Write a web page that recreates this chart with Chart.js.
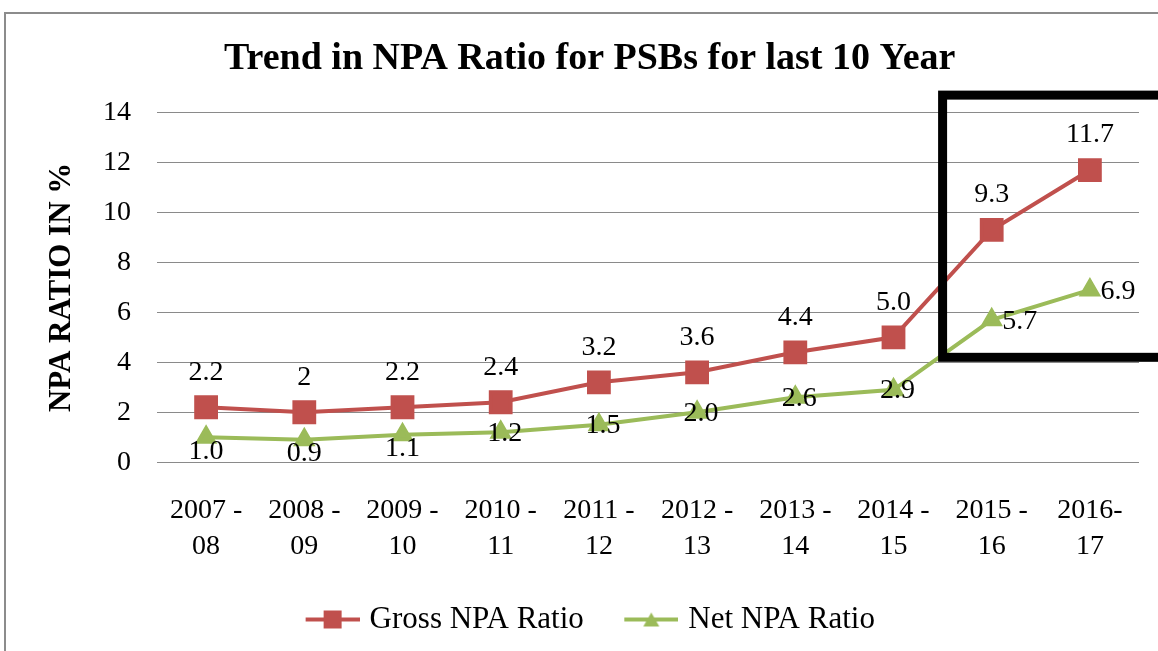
<!DOCTYPE html>
<html>
<head>
<meta charset="utf-8">
<script src="https://cdn.jsdelivr.net/npm/chart.js@4"></script>
<style>
  html, body { margin: 0; padding: 0; background: #fff; }
  #wrap { width: 1158px; height: 651px; position: relative; }
</style>
</head>
<body>
<div id="wrap"><canvas id="npaChart"></canvas></div>
<script>
  // data
  const years = [
    ["2007 -", "08"], ["2008 -", "09"], ["2009 -", "10"], ["2010 -", "11"], ["2011 -", "12"],
    ["2012 -", "13"], ["2013 -", "14"], ["2014 -", "15"], ["2015 -", "16"], ["2016-", "17"]
  ];
  const grossNpa = [2.2, 2, 2.2, 2.4, 3.2, 3.6, 4.4, 5.0, 9.3, 11.7];
  const netNpa = [1.0, 0.9, 1.1, 1.2, 1.5, 2.0, 2.6, 2.9, 5.7, 6.9];
  const grossText = ["2.2", "2", "2.2", "2.4", "3.2", "3.6", "4.4", "5.0", "9.3", "11.7"];
  const netText = ["1.0", "0.9", "1.1", "1.2", "1.5", "2.0", "2.6", "2.9", "5.7", "6.9"];
  const grossLabelPos = ["above", "above", "above", "above", "above", "above", "above", "above", "above", "above"];
  const netLabelPos = ["below", "below", "below", "center", "center", "center", "center", "center", "right", "right"];
  const yTicks = [0, 2, 4, 6, 8, 10, 12, 14];

  const red = "#C0504D";
  const green = "#9BBB59";
  const serif = "'Liberation Serif', 'Times New Roman', serif";

  // legend swatch: a short line with the marker on it (left part of the image is blank)
  function swatch(color, shape) {
    const c = document.createElement("canvas");
    c.width = 89; c.height = 22;
    const g = c.getContext("2d");
    g.strokeStyle = color; g.fillStyle = color; g.lineWidth = 4;
    g.beginPath(); g.moveTo(35, 11); g.lineTo(89, 11); g.stroke();
    if (shape === "rect") {
      g.fillRect(53, 2, 18, 18);
    } else {
      g.beginPath(); g.moveTo(62, 4); g.lineTo(70, 18); g.lineTo(54, 18); g.closePath(); g.fill();
    }
    return c;
  }

  const offsets = {
    above: [0, -35],
    below: [0, 14],
    center: [4, 1],
    right: [28, 2]
  };

  const pointLabels = {
    id: "pointLabels",
    afterDatasetsDraw(chart) {
      const ctx = chart.ctx;
      ctx.save();
      ctx.font = "28px " + serif;
      ctx.fillStyle = "#000";
      ctx.textAlign = "center";
      ctx.textBaseline = "middle";
      chart.data.datasets.forEach((ds, i) => {
        const meta = chart.getDatasetMeta(i);
        meta.data.forEach((pt, j) => {
          const o = offsets[ds.labelPos[j]];
          ctx.fillText(ds.labelText[j], pt.x + o[0], pt.y + o[1]);
        });
      });
      ctx.restore();
    }
  };

  const frame = {
    id: "frame",
    beforeDraw(chart) {
      const ctx = chart.ctx;
      ctx.save();
      ctx.fillStyle = "#fff";
      ctx.fillRect(0, 0, chart.width, chart.height);
      ctx.strokeStyle = "#8c8c8c";
      ctx.lineWidth = 2;
      ctx.strokeRect(5, 13, chart.width + 20, chart.height + 20);
      ctx.restore();
    },
    afterDraw(chart) {
      // black highlight box round the last two years
      const x = chart.scales.x, y = chart.scales.y;
      const left = (x.getPixelForValue(7) + x.getPixelForValue(8)) / 2;
      const top = y.getPixelForValue(14.7);
      const bottom = y.getPixelForValue(4.2);
      const ctx = chart.ctx;
      ctx.save();
      ctx.strokeStyle = "#000";
      ctx.lineWidth = 9;
      ctx.strokeRect(left, top, chart.width + 40 - left, bottom - top);
      ctx.restore();
    }
  };

  new Chart(document.getElementById("npaChart"), {
    type: "line",
    data: {
      labels: years,
      datasets: [
        {
          label: "Gross NPA Ratio",
          data: grossNpa,
          labelText: grossText,
          labelPos: grossLabelPos,
          borderColor: red,
          backgroundColor: red,
          borderWidth: 4,
          pointStyle: "rect",
          pointRadius: 14,
          pointHoverRadius: 14,
          legendSwatch: swatch(red, "rect")
        },
        {
          label: "Net NPA Ratio",
          data: netNpa,
          labelText: netText,
          labelPos: netLabelPos,
          borderColor: green,
          backgroundColor: green,
          borderWidth: 4,
          pointStyle: "triangle",
          pointRadius: 9,
          pointHoverRadius: 9,
          legendSwatch: swatch(green, "triangle")
        }
      ]
    },
    options: {
      responsive: true,
      maintainAspectRatio: false,
      animation: false,
      devicePixelRatio: 1,
      layout: { padding: { left: 12, right: 19, top: 0, bottom: 6 } },
      plugins: {
        title: {
          display: true,
          // leading spaces nudge the centred title a little to the right
          text: "   Trend in NPA Ratio for PSBs for last 10 Year",
          color: "#000",
          font: { family: serif, size: 38, weight: "bold" },
          padding: { top: 36, bottom: 31 }
        },
        legend: {
          position: "bottom",
          title: {
            display: true,
            text: " ",
            font: { size: 1, lineHeight: 1 },
            padding: { top: 2, bottom: 3 }
          },
          labels: {
            color: "#000",
            font: { family: serif, size: 31 },
            usePointStyle: true,
            pointStyleWidth: 78,
            padding: 11,
            generateLabels(chart) {
              return chart.data.datasets.map((ds, i) => ({
                text: ds.label,
                pointStyle: ds.legendSwatch,
                fillStyle: ds.borderColor,
                strokeStyle: ds.borderColor,
                lineWidth: 0,
                fontColor: "#000",
                datasetIndex: i
              }));
            }
          }
        },
        tooltip: { enabled: false }
      },
      scales: {
        x: {
          offset: true,
          grid: { display: false },
          border: { display: false },
          ticks: {
            color: "#000",
            font: { family: serif, size: 28, lineHeight: 1.3 },
            padding: 22,
            maxRotation: 0,
            autoSkip: false
          }
        },
        y: {
          min: 0,
          max: 14,
          afterFit(scale) { scale.width = 145; },
          afterBuildTicks(scale) { scale.ticks = yTicks.map(v => ({ value: v })); },
          grid: { color: "#8a8a8a", lineWidth: 1, drawTicks: false },
          border: { display: false },
          ticks: {
            color: "#000",
            font: { family: serif, size: 28 },
            padding: 26
          },
          title: {
            display: true,
            text: "NPA RATIO IN %",
            color: "#000",
            font: { family: serif, size: 31, weight: "bold" },
            padding: { top: 31, bottom: 0 }
          }
        }
      }
    },
    plugins: [frame, pointLabels]
  });
</script>
</body>
</html>
